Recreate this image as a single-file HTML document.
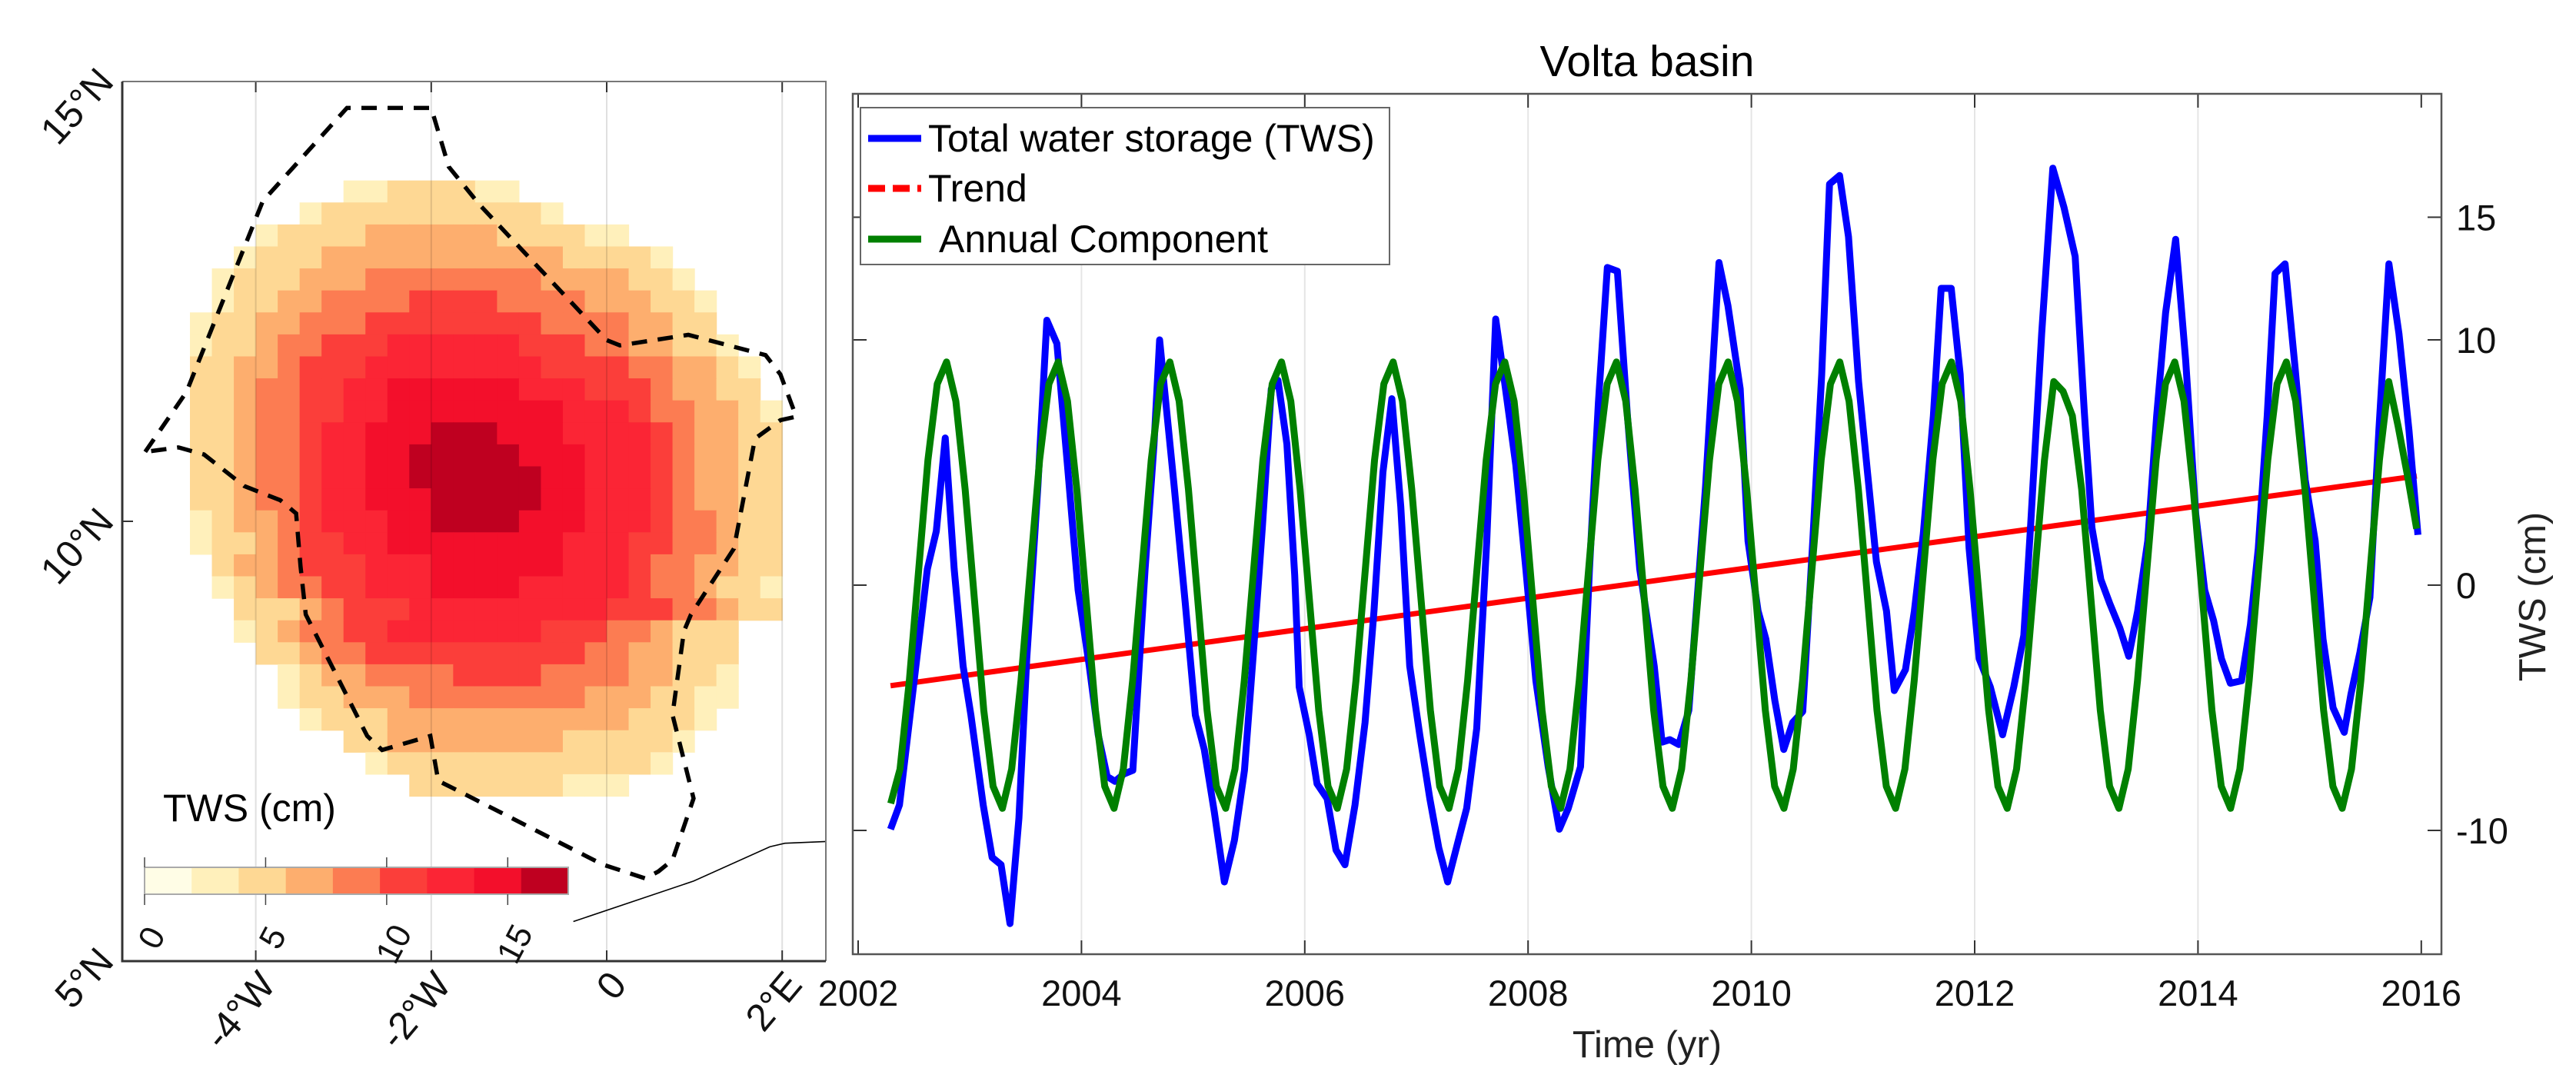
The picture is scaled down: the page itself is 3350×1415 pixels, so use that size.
<!DOCTYPE html>
<html><head><meta charset="utf-8">
<style>
html,body{margin:0;padding:0;background:#fff;}
svg{display:block;font-family:"Liberation Sans",Arial,sans-serif;}
</style></head>
<body>
<svg id="fig" xmlns="http://www.w3.org/2000/svg" width="3350" height="1415" viewBox="0 0 3350 1415">
<rect x="0" y="0" width="3350" height="1415" fill="#fff"/>
<g id="map"></g>
<g id="chart"></g>
</svg>
<script>
// ---------------- MAP DATA ----------------
const mapLonTicks = [-4, -2, 0, 2];
const mapLonLabels = ["-4°W", "-2°W", "0", "2°E"];
const mapLatTicks = [15, 10, 5];
const mapLatLabels = ["15°N", "10°N", "5°N"];
const cellLonStart = -4.75;
const cellLatTop = 13.875;
const cellSize = 0.25;
const colorClasses = ["#fffde6","#fff0bb","#fed894","#fdae6e","#fc7c52","#fb3e3a","#fb2535","#f30f2b","#bf0020"];
const cbTicks = [0, 5, 10, 15];
const cbMax = 17.5;
const gridRows = [
"000000011222211000000000000",
"000001222222222210000000000",
"000122223333332222110000000",
"001222333333333332222100000",
"012223334444444433332210000",
"012233444455554444333221000",
"122334445555555544443322000",
"122344555666666555443322100",
"223345556666666655554433210",
"223445566777777666555433220",
"223445566777777776665443321",
"223445667778887776666543322",
"223445667788888777666543322",
"223445667788888877666543322",
"223445667778888877666543322",
"123345666778888777666544322",
"122345566777777776665544322",
"023345556667777776665443322",
"012344556667777666665443221",
"002223455566666666655544322",
"001234455666666655544322200",
"000223445555555555443322200",
"000012334444555544443322100",
"000012233344444444333221100",
"000001222333333333332221000",
"000000022333333332222210000",
"000000001222222222222100000",
"000000000022222221110000000"
];
const basinLon = [-5.26,-4.79,-3.92,-2.96,-2.00,-1.80,-1.45,0.00,0.15,0.93,1.81,1.98,2.16,1.98,1.69,1.45,0.96,0.88,0.75,0.99,0.75,0.59,0.44,-0.05,-1.68,-1.92,-2.01,-2.56,-2.73,-3.43,-3.49,-3.54,-3.72,-4.13,-4.59,-4.88];
const basinLat = [10.79,11.47,13.64,14.70,14.70,14.03,13.60,12.06,12.00,12.12,11.89,11.67,11.19,11.15,10.94,9.69,8.94,8.75,7.80,6.85,6.15,6.02,5.94,6.10,6.93,7.05,7.56,7.40,7.56,8.94,9.49,10.09,10.24,10.40,10.76,10.84];
const coastLon = [-0.38,0.99,1.86,2.03,2.50];
const coastLat = [5.45,5.91,6.30,6.34,6.36];

// ---------------- CHART DATA ----------------
const yearTicks = [2002,2004,2006,2008,2010,2012,2014,2016];
const valueTicks = [-10,0,10,15];
const twsYears = [2002.29,2002.37,2002.62,2002.70,2002.78,2002.86,2002.94,2003.01,2003.12,2003.20,2003.28,2003.36,2003.44,2003.51,2003.61,2003.69,2003.78,2003.88,2003.97,2004.07,2004.15,2004.23,2004.30,2004.38,2004.46,2004.57,2004.65,2004.70,2004.75,2004.83,2004.93,2005.02,2005.10,2005.19,2005.28,2005.37,2005.46,2005.54,2005.62,2005.70,2005.76,2005.84,2005.91,2005.95,2006.04,2006.11,2006.20,2006.28,2006.36,2006.45,2006.54,2006.62,2006.70,2006.78,2006.86,2006.94,2007.03,2007.12,2007.20,2007.28,2007.37,2007.45,2007.54,2007.63,2007.71,2007.78,2007.89,2007.98,2008.07,2008.18,2008.28,2008.36,2008.47,2008.55,2008.63,2008.71,2008.80,2008.89,2009.00,2009.13,2009.20,2009.27,2009.35,2009.44,2009.59,2009.71,2009.79,2009.90,2009.97,2010.06,2010.13,2010.21,2010.29,2010.37,2010.46,2010.55,2010.63,2010.70,2010.79,2010.87,2010.96,2011.04,2011.12,2011.21,2011.28,2011.38,2011.46,2011.54,2011.63,2011.70,2011.79,2011.87,2011.95,2012.04,2012.14,2012.25,2012.35,2012.44,2012.50,2012.60,2012.70,2012.80,2012.90,2012.98,2013.05,2013.13,2013.21,2013.30,2013.38,2013.46,2013.55,2013.63,2013.71,2013.80,2013.89,2013.98,2014.06,2014.14,2014.21,2014.29,2014.39,2014.47,2014.54,2014.62,2014.69,2014.78,2014.87,2014.96,2015.05,2015.12,2015.21,2015.31,2015.37,2015.45,2015.54,2015.62,2015.71,2015.80,2015.89,2015.97];
const twsValues = [-9.95,-8.96,0.66,2.2,6.0,0.66,-3.3,-5.3,-8.96,-11.1,-11.4,-13.8,-9.5,-3.0,4.05,10.8,9.85,4.6,-0.2,-3.3,-6.1,-7.8,-8.0,-7.7,-7.55,0.66,5.75,10.0,7.7,4.05,-0.75,-5.3,-6.7,-9.25,-12.1,-10.4,-7.55,-2.75,2.35,8.0,8.35,5.75,0.4,-4.15,-6.1,-8.1,-8.7,-10.8,-11.4,-8.96,-5.6,-1.05,4.6,7.6,3.2,-3.3,-6.1,-8.7,-10.7,-12.1,-10.5,-9.1,-5.85,1.8,10.85,8.6,4.9,0.66,-3.9,-7.4,-9.95,-9.1,-7.4,0.66,7.45,12.95,12.8,6.9,0.66,-3.3,-6.4,-6.3,-6.5,-5.1,4.05,13.15,11.4,8.0,1.8,-1.05,-2.2,-4.7,-6.7,-5.6,-5.15,1.8,8.6,16.35,16.7,14.2,8.3,4.6,0.95,-1.05,-4.3,-3.45,-1.05,2.1,6.9,12.1,12.1,8.6,1.5,-3.0,-4.15,-6.1,-4.15,-2.05,2.35,10.25,17.0,15.4,13.4,7.2,2.35,0.23,-0.75,-1.75,-2.9,-1.05,1.8,6.9,11.1,14.1,9.15,2.9,-0.2,-1.45,-3.0,-4.0,-3.9,-1.6,1.5,6.9,12.7,13.1,8.85,4.3,1.8,-2.2,-5.0,-6.0,-4.45,-2.75,-0.5,6.3,13.1,10.25,6.3,2.05];
const annualYears = [2002,2003,2004,2005,2006,2007,2008,2009,2010,2011,2012,2013,2014,2015];
const annualValues = [
[null,null,null,-8.9,-7.5,-3.9,0.6,5.1,8.2,9.1,7.5,3.9],
[-0.6,-5.1,-8.2,-9.1,-7.5,-3.9,0.6,5.1,8.2,9.1,7.5,3.9],
[-0.6,-5.1,-8.2,-9.1,-7.5,-3.9,0.6,5.1,8.2,9.1,7.5,3.9],
[-0.6,-5.1,-8.2,-9.1,-7.5,-3.9,0.6,5.1,8.2,9.1,7.5,3.9],
[-0.6,-5.1,-8.2,-9.1,-7.5,-3.9,0.6,5.1,8.2,9.1,7.5,3.9],
[-0.6,-5.1,-8.2,-9.1,-7.5,-3.9,0.6,5.1,8.2,9.1,7.5,3.9],
[-0.6,-5.1,-8.2,-9.1,-7.5,-3.9,0.6,5.1,8.2,9.1,7.5,3.9],
[-0.6,-5.1,-8.2,-9.1,-7.5,-3.9,0.6,5.1,8.2,9.1,7.5,3.9],
[-0.6,-5.1,-8.2,-9.1,-7.5,-3.9,0.6,5.1,8.2,9.1,7.5,3.9],
[-0.6,-5.1,-8.2,-9.1,-7.5,-3.9,0.6,5.1,8.2,9.1,7.5,3.9],
[-0.6,-5.1,-8.2,-9.1,-7.5,-3.9,0.6,5.1,8.3,7.9,6.9,3.9],
[-0.6,-5.1,-8.2,-9.1,-7.5,-3.9,0.6,5.1,8.2,9.1,7.5,3.9],
[-0.6,-5.1,-8.2,-9.1,-7.5,-3.9,0.6,5.1,8.2,9.1,7.5,3.9],
[-0.6,-5.1,-8.2,-9.1,-7.5,-3.9,0.6,5.1,8.3,6.5,4.5,2.3]
];
const trendYears = [2002.29, 2015.96];
const trendValues = [-4.1, 4.45];

// ---------------- helpers ----------------
const NS = "http://www.w3.org/2000/svg";
function mk(tag, attrs, parent) {
  const e = document.createElementNS(NS, tag);
  for (const k in attrs) e.setAttribute(k, attrs[k]);
  parent.appendChild(e);
  return e;
}
const mapG = document.getElementById('map');
const chartG = document.getElementById('chart');

// ---------------- MAP ----------------
const M = {l:159, r:1074, t:106, b:1250};
function lonX(lon){ return 789 + lon*114.1; }
function latY(lat){ return M.t + (15-lat)*114.4; }

const cells = mk('g', {}, mapG);


gridRows.forEach((row, r) => {
  for (let c = 0; c < row.length; c++) {
    const lvl = +row[c];
    if (!lvl) continue;
    const lon = cellLonStart + c*cellSize;
    const lat = cellLatTop - r*cellSize;
    const x0 = lonX(lon), x1 = lonX(lon+cellSize);
    const y0 = latY(lat), y1 = latY(lat-cellSize);
    const rc = mk('rect', {x:x0, y:y0, width:x1-x0+0.6, height:y1-y0+0.6, fill:colorClasses[lvl]}, cells);
    
    
  }
});
mapLonTicks.forEach((lon, i) => {
  const x = lonX(lon);
  const gl = mk('line', {x1:x, x2:x, y1:M.t, y2:M.b, stroke:'#000', 'stroke-opacity':0.12, 'stroke-width':2}, mapG);
  
  
  mk('line', {x1:x, x2:x, y1:M.b, y2:M.b-14, stroke:'#333', 'stroke-width':2}, mapG);
  mk('line', {x1:x, x2:x, y1:M.t, y2:M.t+14, stroke:'#333', 'stroke-width':2}, mapG);
  const t = mk('text', {x:lonX(lon)+28, y:1282, 'font-size':50, 'text-anchor':'end', transform:`rotate(-50 ${lonX(lon)+28} 1282)`, fill:'#111'}, mapG);
  t.textContent = mapLonLabels[i];
  
  
});
mapLatTicks.forEach((lat, i) => {
  const y = latY(lat);
  mk('line', {x1:M.l, x2:M.l+14, y1:y, y2:y, stroke:'#333', 'stroke-width':2}, mapG);
  const t = mk('text', {x:150, y:y+2, 'font-size':50, 'text-anchor':'end', transform:`rotate(-48 150 ${y+2})`, fill:'#111'}, mapG);
  t.textContent = mapLatLabels[i];
  
  
});
const bpts = basinLon.map((lo,i)=>lonX(lo)+','+latY(basinLat[i])).join(' ');
const basin = mk('polygon', {points:bpts, fill:'none', stroke:'#000', 'stroke-width':5.5, 'stroke-dasharray':'20 14'}, mapG);


const cpts = coastLon.map((lo,i)=>lonX(lo)+','+latY(coastLat[i])).join(' ');
const coast = mk('polyline', {points:cpts, fill:'none', stroke:'#000', 'stroke-width':1.6}, mapG);


mk('polyline', {points:`${M.l},${M.t} ${M.r},${M.t} ${M.r},${M.b}`, fill:'none', stroke:'#777', 'stroke-width':2}, mapG);
const mframe = mk('polyline', {points:`${M.l},${M.t} ${M.l},${M.b} ${M.r},${M.b}`, fill:'none', stroke:'#333', 'stroke-width':3}, mapG);


const CB = {x0:188, x1:739, y0:1128, y1:1163};
function cbX(v){ return CB.x0 + v/cbMax*(CB.x1-CB.x0); }
const cbG = mk('g', {}, mapG);


colorClasses.forEach((col, i) => {
  const w = (CB.x1-CB.x0)/colorClasses.length;
  mk('rect', {x:CB.x0+i*w, y:CB.y0, width:w+0.5, height:CB.y1-CB.y0, fill:col}, cbG);
});
mk('rect', {x:CB.x0, y:CB.y0, width:CB.x1-CB.x0, height:CB.y1-CB.y0, fill:'none', stroke:'#aaa', 'stroke-width':2}, cbG);
const cbLabelY = [1220,1220,1228,1228];
cbTicks.forEach((v, i) => {
  const x = cbX(v);
  mk('line', {x1:x, x2:x, y1:1115, y2:1128, stroke:'#444', 'stroke-width':1.5}, cbG);
  mk('line', {x1:x, x2:x, y1:1163, y2:1177, stroke:'#444', 'stroke-width':1.5}, cbG);
  const t = mk('text', {x:x+10, y:cbLabelY[i]+14, 'font-size':44, 'text-anchor':'middle', transform:`rotate(-62 ${x+10} ${cbLabelY[i]})`, fill:'#111'}, cbG);
  t.textContent = String(v);
  
  
});
const cbt = mk('text', {x:212, y:1068, 'font-size':50, fill:'#000'}, mapG);
cbt.textContent = 'TWS  (cm)';


cbt.setAttribute('xml:space', 'preserve');

// ---------------- CHART ----------------
const P = {l:1109, r:3175, t:122, b:1241};
function xs(yr){ return 1116 + (yr-2002)*145.2; }
function ys(v){ return 761 - v*31.9; }

yearTicks.forEach(yr => {
  const x = xs(yr);
  if (yr > 2002 && yr < 2016) {
    const gl = mk('line', {x1:x, x2:x, y1:P.t, y2:P.b, stroke:'#000', 'stroke-opacity':0.1, 'stroke-width':2}, chartG);
    
    
  }
  mk('line', {x1:x, x2:x, y1:P.b, y2:P.b-18, stroke:'#333', 'stroke-width':2}, chartG);
  mk('line', {x1:x, x2:x, y1:P.t, y2:P.t+18, stroke:'#333', 'stroke-width':2}, chartG);
  const t = mk('text', {x:x, y:1308, 'font-size':47, 'text-anchor':'middle', fill:'#111'}, chartG);
  t.textContent = String(yr);
  
  
});
valueTicks.forEach(v => {
  const y = ys(v);
  mk('line', {x1:P.r, x2:P.r-18, y1:y, y2:y, stroke:'#333', 'stroke-width':2}, chartG);
  mk('line', {x1:P.l, x2:P.l+18, y1:y, y2:y, stroke:'#333', 'stroke-width':2}, chartG);
  const t = mk('text', {x:3194, y:y+17, 'font-size':47, fill:'#111'}, chartG);
  t.textContent = String(v);
  
  
});
const annPts = [];
annualYears.forEach((yr, i) => {
  annualValues[i].forEach((v, m) => {
    if (v === null) return;
    annPts.push(xs(yr + (m+0.5)/12) + ',' + ys(v));
  });
});
const trend = mk('polyline', {points:trendYears.map((t,i)=>xs(t)+','+ys(trendValues[i])).join(' '), fill:'none', stroke:'#ff0000', 'stroke-width':7}, chartG);


const tws = mk('polyline', {points:twsYears.map((t,i)=>xs(t)+','+ys(twsValues[i])).join(' '), fill:'none', stroke:'#0000ff', 'stroke-width':9, 'stroke-linejoin':'round'}, chartG);


const ann = mk('polyline', {points:annPts.join(' '), fill:'none', stroke:'#008000', 'stroke-width':9, 'stroke-linejoin':'round'}, chartG);


const cframe = mk('rect', {x:P.l, y:P.t, width:P.r-P.l, height:P.b-P.t, fill:'none', stroke:'#555', 'stroke-width':2.5}, chartG);


const title = mk('text', {x:2142, y:99, 'font-size':57, 'text-anchor':'middle', fill:'#000'}, chartG);
title.textContent = 'Volta basin';


const xl = mk('text', {x:2142, y:1375, 'font-size':49, 'text-anchor':'middle', fill:'#222'}, chartG);
xl.textContent = 'Time (yr)';


const yl = mk('text', {x:3310, y:776, 'font-size':49, 'text-anchor':'middle', transform:'rotate(-90 3310 776)', fill:'#222'}, chartG);
yl.textContent = 'TWS  (cm)';
yl.setAttribute('xml:space', 'preserve');


const lg = mk('g', {}, chartG);


mk('rect', {x:1119, y:140, width:688, height:204, fill:'#fff', stroke:'#666', 'stroke-width':2}, lg);
const legItems = [
  {label:'Total water storage (TWS)', color:'#0000ff', dash:null, y:180, tx:1207},
  {label:'Trend', color:'#ff0000', dash:'22 10', y:245, tx:1207},
  {label:'Annual Component', color:'#008000', dash:null, y:311, tx:1221}
];
legItems.forEach(it => {
  const e = mk('g', {}, lg);
  
  
  const ln = mk('line', {x1:1129, x2:1198, y1:it.y, y2:it.y, stroke:it.color, 'stroke-width':9}, e);
  if (it.dash) ln.setAttribute('stroke-dasharray', it.dash);
  const t = mk('text', {x:it.tx, y:it.y+17, 'font-size':50, fill:'#000'}, e);
  t.textContent = it.label;
});
</script>
</body></html>
